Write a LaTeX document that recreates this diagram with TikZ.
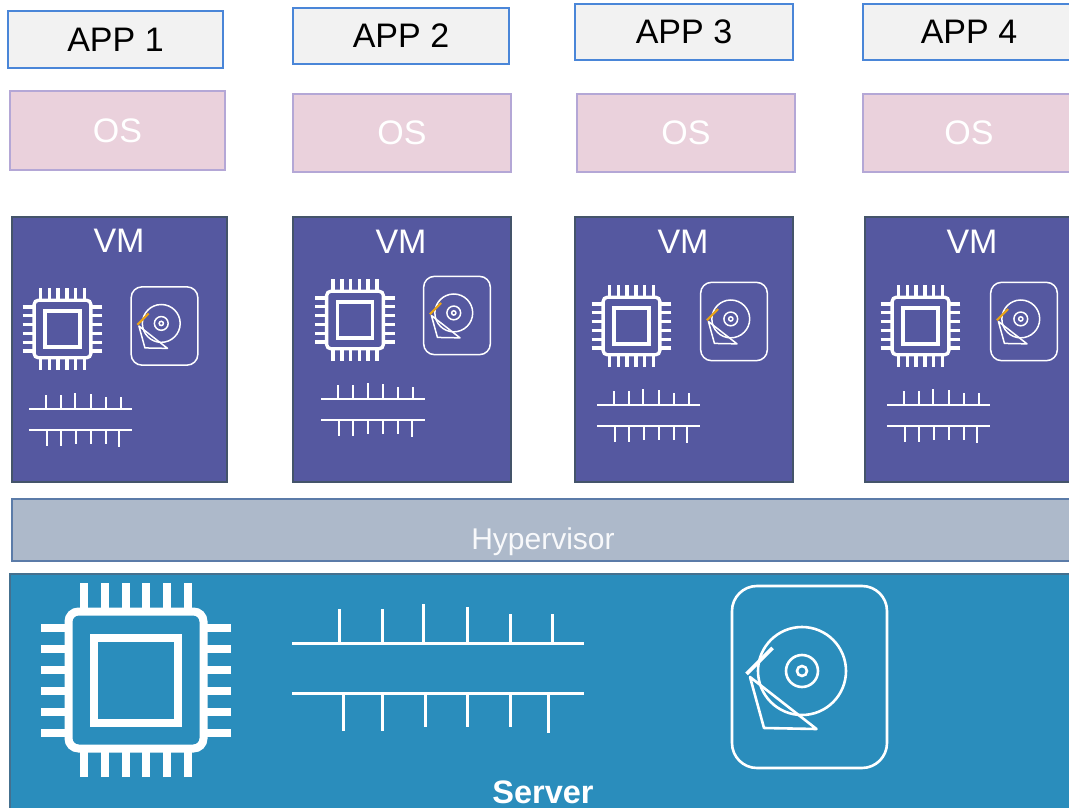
\documentclass[tikz,border=0pt]{standalone}
\usepackage{fontspec}
\setmainfont{Liberation Sans}
\usepackage{xcolor}
\usepackage{tikz}
\usetikzlibrary{calc, positioning}
\definecolor{appfill}{RGB}{242, 242, 242}
\definecolor{appline}{RGB}{74, 134, 216}
\definecolor{osfill}{RGB}{234, 209, 220}
\definecolor{osline}{RGB}{180, 167, 214}
\definecolor{vmfill}{RGB}{85, 88, 160}
\definecolor{vmline}{RGB}{68, 84, 106}
\definecolor{hvfill}{RGB}{173, 185, 202}
\definecolor{hvline}{RGB}{91, 123, 168}
\definecolor{srvfill}{RGB}{42, 141, 188}
\definecolor{srvline}{RGB}{68, 112, 143}
\definecolor{headorange}{RGB}{232, 163, 23}
\tikzset{
    appnode/.style = {draw=appline, fill=appfill, rectangle, line width=1.5pt, inner sep=0pt, font=\fontsize{34}{34}\selectfont},
    osnode/.style = {draw=osline, fill=osfill, rectangle, line width=1.5pt, inner sep=0pt, text=white, font=\fontsize{34}{34}\selectfont},
    vmnode/.style = {draw=vmline, fill=vmfill, rectangle, line width=1.5pt, inner sep=0pt},
    vmtext/.style = {draw=none, fill=none, inner sep=0pt, text=white, font=\fontsize{34}{34}\selectfont},
    hvnode/.style = {draw=hvline, fill=hvfill, rectangle, line width=1.2pt, inner sep=0pt},
    srvnode/.style = {draw=srvline, fill=srvfill, rectangle, line width=1.5pt, inner sep=0pt},
    hvtext/.style = {draw=none, fill=none, inner sep=0pt, text=white!92!hvfill, font=\fontsize{30}{30}\selectfont},
    srvtext/.style = {draw=none, fill=none, inner sep=0pt, text=white, font=\fontsize{32.5}{33}\selectfont\bfseries},
    icon/.style = {draw=white, fill=none}
}
% chip: center x, center y, scale
\newcommand{\chipicon}[3]{
\begin{scope}[shift={(#1,#2)}, scale=#3, icon, line width=#3*8pt]
\draw [rounded corners=#3*10pt] (-67.5,-68.5) rectangle (67.5,68.5);
\draw (-42,-42.5) rectangle (42,42.5);
\draw (-52,-97) -- (-52,-72) (-31.2,-97) -- (-31.2,-72) (-10.4,-97) -- (-10.4,-72)
      (10.4,-97) -- (10.4,-72) (31.2,-97) -- (31.2,-72) (52,-97) -- (52,-72);
\draw (-52,97) -- (-52,72) (-31.2,97) -- (-31.2,72) (-10.4,97) -- (-10.4,72)
      (10.4,97) -- (10.4,72) (31.2,97) -- (31.2,72) (52,97) -- (52,72);
\draw (-95,-52.5) -- (-71,-52.5) (-95,-31.5) -- (-71,-31.5) (-95,-10.5) -- (-71,-10.5)
      (-95,10.5) -- (-71,10.5) (-95,31.5) -- (-71,31.5) (-95,52.5) -- (-71,52.5);
\draw (95,-52.5) -- (71,-52.5) (95,-31.5) -- (71,-31.5) (95,-10.5) -- (71,-10.5)
      (95,10.5) -- (71,10.5) (95,31.5) -- (71,31.5) (95,52.5) -- (71,52.5);
\end{scope}
}
% disk: center x, center y, scale, line width, head colour
\newcommand{\diskicon}[5]{
\begin{scope}[shift={(#1,#2)}, scale=#3, icon, line width=#4]
\draw [rounded corners=#3*25pt] (-77.5,-91) rectangle (77.5,91);
\draw (-7.5,-6) circle (44);
\draw (-7.5,-6) circle (16);
\draw (-7.5,-6) circle (5);
\draw [line join=round] (-59.5,0) -- (-45.5,51) -- (7,52) -- cycle;
\draw [draw=#5, line width=#4*1.4] (-63,-3) -- (-37,-29);
\end{scope}
}
% memory bus: center x, center y, x scale, y scale, line width
\newcommand{\busicon}[5]{
\begin{scope}[shift={(#1,#2)}, xscale=#3, yscale=#4, icon, line width=#5]
\draw (-146,-25) -- (146,-25);
\draw (-146,25) -- (146,25);
\draw (-99,-25) -- (-99,-59) (-56,-25) -- (-56,-59) (-15,-25) -- (-15,-64)
      (29,-25) -- (29,-61) (72,-25) -- (72,-54) (114,-25) -- (114,-54);
\draw (-95,25) -- (-95,63) (-56,25) -- (-56,63) (-13,25) -- (-13,59)
      (29,25) -- (29,59) (72,25) -- (72,59) (110,25) -- (110,65);
\end{scope}
}
\begin{document}
\begin{tikzpicture}[x=1pt, y=-1pt]
\useasboundingbox (0,0) rectangle (1069,808);
\fill [white] (0,0) rectangle (1069,808);

\node [appnode, name=app1, minimum width=215pt, minimum height=57pt] at (115.5,39.5) {APP 1};
\node [appnode, name=app2, minimum width=216pt, minimum height=56pt] at (401,36) {APP 2};
\node [appnode, name=app3, minimum width=218pt, minimum height=56pt] at (684,32) {APP 3};
\node [appnode, name=app4, minimum width=212pt, minimum height=56pt] at (969,32) {APP 4};

\node [osnode, name=os1, minimum width=215pt, minimum height=79pt] at (117.5,130.5) {OS};
\node [osnode, name=os2, minimum width=218pt, minimum height=78pt] at (402,133) {OS};
\node [osnode, name=os3, minimum width=218pt, minimum height=78pt] at (686,133) {OS};
\node [osnode, name=os4, minimum width=212pt, minimum height=78pt] at (969,133) {OS};

\node [vmnode, name=vm1, minimum width=215pt, minimum height=265pt] at (119.5,349.5) {};
\node [vmnode, name=vm2, minimum width=218pt, minimum height=265pt] at (402,349.5) {};
\node [vmnode, name=vm3, minimum width=218pt, minimum height=265pt] at (684,349.5) {};
\node [vmnode, name=vm4, minimum width=214pt, minimum height=265pt] at (972,349.5) {};

\node [vmtext, name=vmtext1] at (119,241) {VM};
\node [vmtext, name=vmtext2] at (401,242) {VM};
\node [vmtext, name=vmtext3] at (683,242) {VM};
\node [vmtext, name=vmtext4] at (972,242) {VM};

\chipicon{62.5}{329}{0.42}
\chipicon{355}{320}{0.42}
\chipicon{631.5}{326}{0.42}
\chipicon{920.5}{326}{0.42}

\diskicon{164.5}{326}{0.43}{1.5pt}{headorange}
\diskicon{457}{315.5}{0.43}{1.5pt}{headorange}
\diskicon{734}{321.5}{0.43}{1.5pt}{headorange}
\diskicon{1024}{321.5}{0.43}{1.5pt}{headorange}

\busicon{80.5}{419.5}{0.353}{0.42}{2pt}
\busicon{373}{409.5}{0.353}{0.42}{2pt}
\busicon{648.5}{415.5}{0.353}{0.42}{2pt}
\busicon{938.5}{415.5}{0.353}{0.42}{2pt}

\node [hvnode, name=hypervisor, minimum width=1062pt, minimum height=62pt] at (543,530) {};
\node [hvtext, name=hypervisortext] at (543,542) {Hypervisor};

\node [srvnode, name=server, minimum width=1066pt, minimum height=241pt] at (543,694.5) {};
\node [srvtext, name=servertext] at (543,792) {Server};

\chipicon{136}{680}{1}
\busicon{438}{668}{1}{1}{3pt}
\diskicon{809.5}{677}{1}{2.6pt}{white}
\end{tikzpicture}
\end{document}
